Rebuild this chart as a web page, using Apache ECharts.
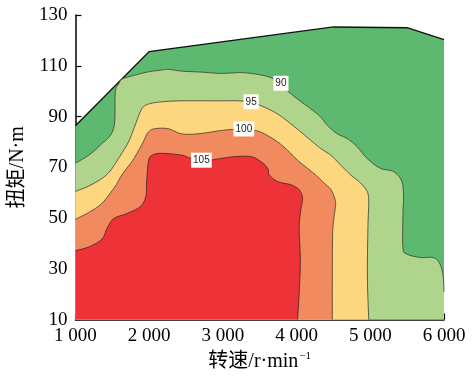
<!DOCTYPE html>
<html><head><meta charset="utf-8">
<script src="https://cdn.jsdelivr.net/npm/echarts@6/dist/echarts.min.js"></script>
<style>html,body{margin:0;padding:0;background:#fff}#c{width:472px;height:377px}</style>
</head><body><div id="c"></div>
<script>
// ---- data (speed r/min, torque N·m) ----
const speedTicks = [1000, 2000, 3000, 4000, 5000, 6000];
const speedTickLabels = ['1 000', '2 000', '3 000', '4 000', '5 000', '6 000'];
const torqueTicks = [10, 30, 50, 70, 90, 110, 130];

const maxTorque = [[1000,86.4],[2000,115.6],[4500,125.3],[5500,125],[6000,120.3]];

const contour90 = [[1000,71.6],[1181,74.8],[1337,78.7],[1518,85.2],[1540,99.5],[1585,102.7],[1630,104.7],[1742,105.8],[1990,107.6],[2169,108.3],[2260,108.6],[2439,107.9],[2709,107.5],[2979,107.0],[3248,107.3],[3474,106.6],[3653,105.3],[3788,103.1],[3878,100.1],[4013,96.9],[4193,93.0],[4328,89.8],[4418,86.5],[4553,83.2],[4688,81.3],[4823,78.1],[4957,73.5],[5137,69.6],[5316,68.3],[5429,64.4],[5451,57.9],[5443,51.4],[5443,38.4],[5497,35.8],[5676,34.5],[5856,34.4],[5946,31.9],[5990,26.8],[6000,20.9]];

const contour95 = [[1000,60.5],[1180,62.6],[1360,65.6],[1470,68.5],[1585,73.5],[1720,80.0],[1809,86.5],[1900,93.0],[1990,94.9],[2169,95.8],[2439,96.2],[2753,96.2],[2979,96.2],[3204,96.2],[3384,95.6],[3563,93.7],[3743,91.0],[3923,87.1],[4058,83.9],[4193,80.6],[4328,77.4],[4463,74.8],[4598,70.9],[4733,67.0],[4868,63.8],[4957,60.5],[4979,56.6],[4968,46.2],[4961,26.8],[4979,10]];

const contour100 = [[1000,49.5],[1180,52.2],[1360,55.8],[1540,62.5],[1630,67.0],[1765,72.2],[1855,76.5],[1920,80.0],[1990,83.9],[2079,85.2],[2260,85.2],[2439,83.2],[2664,83.2],[2979,84.5],[3158,84.9],[3428,84.5],[3563,83.2],[3743,80.0],[3878,76.7],[4013,72.8],[4148,69.6],[4283,66.4],[4372,63.8],[4462,61.4],[4516,57.9],[4530,55.3],[4507,50.1],[4489,43.6],[4485,26.8],[4485,10]];

const contour105 = [[1000,37.2],[1180,38.6],[1360,41.7],[1430,46.0],[1520,49.8],[1700,51.8],[1880,54.5],[1955,58.5],[1967,64.5],[1990,72.2],[2035,74.7],[2169,75.5],[2439,74.8],[2574,73.5],[2799,72.8],[2979,73.5],[3158,74.2],[3383,74.2],[3518,72.2],[3609,69.6],[3630,67.0],[3743,64.4],[3923,63.1],[4035,61.2],[4081,57.9],[4058,53.4],[4035,46.2],[4051,33.4],[4035,20.2],[4013,10]];

const levels = ['90', '95', '100', '105'];
const levelLabelPos = [[3788,103.1],[3384,95.8],[3285,85.1],[2709,72.8]];

// ---- chart ----
const serif = '"Liberation Serif", "Times New Roman", "Noto Sans CJK SC", serif';
const xMin = 1000, xMax = 6000, yMin = 10, yMax = 130;

// Catmull-Rom smoothing of projected pixel points (render-time only)
function smoothPx(pts, n) {
  if (pts.length < 3) return pts.slice();
  const out = [];
  for (let i = 0; i < pts.length - 1; i++) {
    const p0 = pts[Math.max(0, i - 1)], p1 = pts[i], p2 = pts[i + 1], p3 = pts[Math.min(pts.length - 1, i + 2)];
    for (let k = 0; k < n; k++) {
      const t = k / n, t2 = t * t, t3 = t2 * t;
      const f = (a, b, c, d) => 0.5 * ((2 * b) + (-a + c) * t + (2 * a - 5 * b + 4 * c - d) * t2 + (-a + 3 * b - 3 * c + d) * t3);
      out.push([f(p0[0], p1[0], p2[0], p3[0]), f(p0[1], p1[1], p2[1], p3[1])]);
    }
  }
  out.push(pts[pts.length - 1]);
  return out;
}

function region(line, closing, fill, stroke, lw, smooth) {
  return {
    type: 'custom', coordinateSystem: 'cartesian2d', silent: true,
    data: [[xMin, yMin]],
    renderItem: function (params, api) {
      let pts = line.map(p => api.coord(p));
      if (smooth) pts = smoothPx(pts, 8);
      const poly = pts.concat(closing.map(p => api.coord(p)));
      return {
        type: 'group', children: [
          { type: 'polygon', shape: { points: poly }, style: { fill: fill, stroke: null, lineWidth: 0 } },
          { type: 'polyline', shape: { points: pts }, style: { fill: null, stroke: stroke, lineWidth: lw } }
        ]
      };
    }
  };
}

const chart = echarts.init(document.getElementById('c'), null, { renderer: 'canvas' });
chart.setOption({
  animation: false,
  backgroundColor: '#fff',
  grid: { left: 73, right: 28, top: 15, bottom: 54 },
  xAxis: {
    type: 'value', min: xMin, max: xMax, interval: 1000,
    name: '转速/r·min{sup|−1}', nameLocation: 'middle', nameGap: 30,
    nameTextStyle: { fontSize: 20, fontFamily: serif, color: '#000',
      rich: { sup: { fontSize: 11, fontFamily: serif, color: '#000', verticalAlign: 'top', padding: [0, 0, 12, 1] } } },
    axisLine: { show: true, onZero: false, lineStyle: { color: '#000', width: 1.5 } },
    axisTick: { show: true, inside: true, length: 6, lineStyle: { color: '#000', width: 1.2 } },
    axisLabel: { margin: 7, fontSize: 19, fontFamily: serif, color: '#000',
      formatter: v => speedTickLabels[speedTicks.indexOf(v)] },
    splitLine: { show: false }
  },
  yAxis: {
    type: 'value', min: yMin, max: yMax, interval: 20,
    name: '扭矩/N·m', nameLocation: 'middle', nameGap: 41,
    nameTextStyle: { fontSize: 20, fontFamily: serif, color: '#000' },
    axisLine: { show: true, onZero: false, lineStyle: { color: '#000', width: 1.5 } },
    axisTick: { show: true, inside: true, length: 6, lineStyle: { color: '#000', width: 1.2 } },
    axisLabel: { margin: 8, fontSize: 19, fontFamily: serif, color: '#000',
      formatter: v => torqueTicks.indexOf(v) >= 0 ? String(v) : '' },
    splitLine: { show: false }
  },
  series: [
    region(maxTorque, [[xMax, yMin], [xMin, yMin]], '#5cb96f', '#111', 1.4, false),
    region(contour90, [[xMax, yMin], [xMin, yMin]], '#afd48b', '#3b3b30', 0.8, true),
    region(contour95, [[xMin, yMin]], '#fdd680', '#3b3b30', 0.8, true),
    region(contour100, [[xMin, yMin]], '#f18a5f', '#3b3b30', 0.8, true),
    region(contour105, [[xMin, yMin]], '#ee3338', '#3b2020', 0.8, true),
    {
      type: 'scatter', symbolSize: 1, silent: true, z: 5,
      itemStyle: { opacity: 0 },
      data: levelLabelPos.map((p, i) => ({ value: p, name: levels[i] })),
      label: { show: true, position: 'inside', formatter: p => p.name, opacity: 1,
        backgroundColor: '#ffffff', padding: [3, 2, 2, 2], fontSize: 10,
        fontFamily: '"Liberation Sans", "DejaVu Sans", sans-serif', color: '#222' }
    }
  ]
});
</script></body></html>
